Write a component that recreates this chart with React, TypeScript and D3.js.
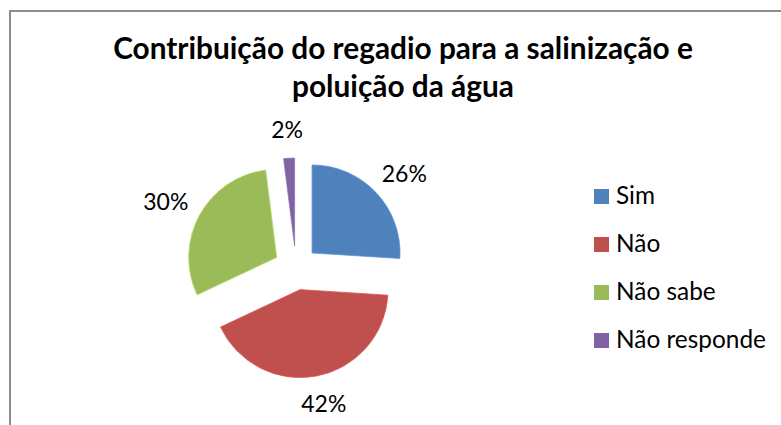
import { useRef, useEffect } from 'react'
import * as d3 from 'd3'

const categories = ['Sim', 'Não', 'Não sabe', 'Não responde']
const values = [26, 42, 30, 2]
const colors = ['#4F81BD', '#C0504D', '#9BBB59', '#8064A2']
const titleLines = ['Contribuição do regadio para a salinização e', 'poluição da água']

const App = () => {
  const ref = useRef<SVGSVGElement>(null)

  useEffect(() => {
    const svg = d3.select(ref.current)
    svg.selectAll('*').remove()

    const width = 781
    const height = 425
    const font = 'Lato, Carlito, Calibri, sans-serif'

    svg.attr('width', width).attr('height', height)

    // chart area frame, running off the right and bottom edge
    svg.append('rect')
      .attr('x', 10)
      .attr('y', 11)
      .attr('width', 900)
      .attr('height', 600)
      .attr('fill', 'white')
      .attr('stroke', '#8c8c8c')
      .attr('stroke-width', 2)

    // fit a text to a given width by tuning the font size
    const fit = (sel: any, target: number) => {
      const node = sel.node() as SVGTextElement
      const size = parseFloat(sel.attr('font-size'))
      const w = node.getComputedTextLength()
      if (w > 0) sel.attr('font-size', (size * target) / w)
    }

    const title = svg.append('g')
    const t1 = title.append('text')
      .attr('x', 403)
      .attr('y', 59)
      .attr('text-anchor', 'middle')
      .attr('font-family', font)
      .attr('font-weight', 'bold')
      .attr('font-size', 26)
      .attr('fill', '#000')
      .text(titleLines[0])
    fit(t1, 580)
    const t2 = title.append('text')
      .attr('x', 403)
      .attr('y', 97)
      .attr('text-anchor', 'middle')
      .attr('font-family', font)
      .attr('font-weight', 'bold')
      .attr('font-size', t1.attr('font-size'))
      .attr('fill', '#000')
      .text(titleLines[1])

    // pie
    const cx = 296
    const cy = 268
    const radius = 88
    const explode = 22

    const pie = d3.pie<number>().sort(null).value((d) => d)
    const arcs = pie(values)
    const arc = d3.arc<d3.PieArcDatum<number>>()
      .innerRadius(0)
      .outerRadius(radius)

    const g = svg.append('g').attr('transform', `translate(${cx}, ${cy})`)

    g.selectAll('path')
      .data(arcs)
      .enter()
      .append('path')
      .attr('transform', (d) => {
        const a = (d.startAngle + d.endAngle) / 2
        return `translate(${explode * Math.sin(a)}, ${-explode * Math.cos(a)})`
      })
      .attr('d', arc)
      .attr('fill', (d, i) => colors[i])
      .attr('stroke', (d, i) => d3.color(colors[i])!.brighter(0.4).toString())
      .attr('stroke-width', 0.8)

    // data labels outside the slices
    const labelSize = 23
    const labelGap = 16
    arcs.forEach((d) => {
      const a = (d.startAngle + d.endAngle) / 2
      const dx = Math.sin(a)
      const dy = -Math.cos(a)
      const txt = `${d.data}%`
      const label = g.append('text')
        .attr('font-family', font)
        .attr('font-size', labelSize)
        .attr('fill', '#000')
        .attr('text-anchor', 'middle')
        .text(txt)
      const hw = (label.node() as SVGTextElement).getComputedTextLength() / 2
      const hh = 12
      const r = radius + explode + labelGap
      const x = r * dx + hw * dx
      const y = r * dy + hh * dy
      label.attr('x', x).attr('y', y + 8)
    })

    // legend
    const legend = svg.append('g').attr('transform', 'translate(594, 189)')
    const rows = legend.selectAll('g')
      .data(categories)
      .enter()
      .append('g')
      .attr('transform', (d, i) => `translate(0, ${i * 48})`)
    rows.append('rect')
      .attr('width', 15)
      .attr('height', 15)
      .attr('fill', (d, i) => colors[i])
    const texts = rows.append('text')
      .attr('x', 22)
      .attr('y', 15)
      .attr('font-family', font)
      .attr('font-size', 24)
      .attr('fill', '#000')
      .text((d) => d)
    const last = d3.select(texts.nodes()[3])
    fit(last, 150)
    texts.attr('font-size', last.attr('font-size'))
  }, [])

  return (
    <svg ref={ref} style={{ position: 'absolute', left: 0, top: 0 }} />
  )
}

export default App
